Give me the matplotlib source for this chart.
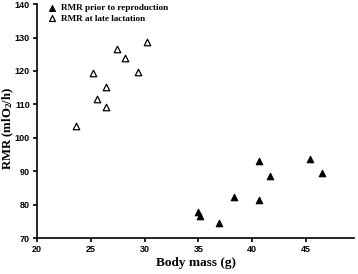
import matplotlib
matplotlib.use("Agg")
import matplotlib.pyplot as plt

plt.rcParams['mathtext.fontset'] = 'custom'
plt.rcParams['mathtext.rm'] = 'Liberation Serif:bold'
plt.rcParams['mathtext.bf'] = 'Liberation Serif:bold'
plt.rcParams['mathtext.default'] = 'rm'

prior_mass = [40.65, 41.66, 38.34, 40.65, 35.0, 35.2, 36.96, 45.4, 46.45]
prior_rmr = [93.0, 88.5, 82.2, 81.3, 77.7, 76.5, 74.4, 93.6, 89.4]
late_mass = [23.6, 25.25, 25.6, 26.4, 26.4, 27.4, 28.2, 29.4, 30.2]
late_rmr = [103.5, 119.3, 111.6, 115.1, 109.2, 126.5, 123.8, 119.6, 128.6]
x_ticks = [20, 25, 30, 35, 40, 45]
y_ticks = [70, 80, 90, 100, 110, 120, 130, 140]

fig = plt.figure(figsize=(3.58, 2.74), dpi=100)
ax = fig.add_axes([0.103, 0.131, 0.887, 0.854])
ax.scatter(prior_mass, prior_rmr, marker='^', s=22, facecolor='black', edgecolor='black',
           linewidths=0.8, label='RMR prior to reproduction')
ax.scatter(late_mass, late_rmr, marker='^', s=22, facecolor='white', edgecolor='black',
           linewidths=0.9, label='RMR at late lactation')
ax.set_xlim(20, 49.5)
ax.set_ylim(70, 140)
ax.set_xticks(x_ticks)
ax.set_yticks(y_ticks)
for s in ['top', 'right']:
    ax.spines[s].set_visible(False)
for s in ['left', 'bottom']:
    ax.spines[s].set_linewidth(1.2)
ax.tick_params(direction='out', length=3, width=1.2, pad=2)
for lab in ax.get_xticklabels() + ax.get_yticklabels():
    lab.set_fontfamily('Liberation Sans')
    lab.set_fontweight('bold')
    lab.set_fontsize(6.5)
ax.set_xlabel('Body mass (g)', fontfamily='Liberation Serif', fontweight='bold', fontsize=9.5, labelpad=2)
ax.set_ylabel('RMR (mlO$_2$/h)', fontfamily='Liberation Serif', fontweight='bold', fontsize=9.2)
ax.yaxis.set_label_coords(-0.066, 0.47)
leg = ax.legend(loc='upper left', bbox_to_anchor=(0.006, 1.018), frameon=False, handletextpad=0.0,
                borderaxespad=0, labelspacing=0.25, markerscale=0.9,
                prop={'family': 'Liberation Serif', 'weight': 'bold', 'size': 6.6})
fig.savefig('out.png', dpi=100)
